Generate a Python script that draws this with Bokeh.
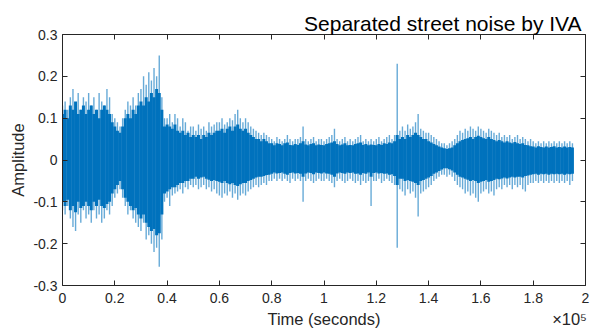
from bokeh.plotting import figure
from bokeh.models import Range1d, FixedTicker, LinearAxis
from bokeh.embed import file_html
from bokeh.resources import INLINE

# ---- data ----
# sample positions (samples), every 1000 samples
samp_t = [i * 1000 for i in range(196)]

# outer spike envelope (light fringe)
tip_hi = [0.13, 0.14, 0.12, 0.15, 0.17, 0.13, 0.16, 0.12, 0.15, 0.14,
          0.16, 0.13, 0.15, 0.12, 0.16, 0.14, 0.13, 0.17, 0.15, 0.11,
          0.10, 0.09, 0.08, 0.10, 0.12, 0.14, 0.13, 0.15, 0.13, 0.16,
          0.17, 0.20, 0.18, 0.21, 0.19, 0.22, 0.20, 0.25, 0.15, 0.10,
          0.10, 0.11, 0.09, 0.11, 0.10, 0.08, 0.10, 0.09, 0.07, 0.08,
          0.08, 0.07, 0.085, 0.075, 0.08, 0.07, 0.09, 0.08, 0.085, 0.09,
          0.09, 0.10, 0.085, 0.09, 0.10, 0.095, 0.11, 0.12, 0.10, 0.09,
          0.10, 0.09, 0.08, 0.075, 0.07, 0.065, 0.06, 0.065, 0.06, 0.055,
          0.05, 0.045, 0.055, 0.05, 0.045, 0.05, 0.06, 0.05, 0.045, 0.05,
          0.05, 0.055, 0.08, 0.05, 0.045, 0.05, 0.055, 0.045, 0.05, 0.05,
          0.045, 0.05, 0.055, 0.06, 0.075, 0.05, 0.045, 0.05, 0.055, 0.045,
          0.05, 0.045, 0.05, 0.055, 0.06, 0.045, 0.05, 0.045, 0.05, 0.045,
          0.05, 0.055, 0.045, 0.05, 0.055, 0.06, 0.05, 0.06, 0.23, 0.07,
          0.08, 0.07, 0.085, 0.075, 0.08, 0.09, 0.11, 0.075, 0.07, 0.065,
          0.065, 0.06, 0.055, 0.05, 0.045, 0.04, 0.04, 0.035, 0.04, 0.045,
          0.05, 0.06, 0.07, 0.065, 0.075, 0.07, 0.08, 0.075, 0.07, 0.08,
          0.075, 0.07, 0.065, 0.075, 0.07, 0.065, 0.06, 0.065, 0.055, 0.06,
          0.055, 0.06, 0.05, 0.055, 0.06, 0.05, 0.055, 0.05, 0.045, 0.05,
          0.045, 0.04, 0.045, 0.04, 0.045, 0.04, 0.045, 0.04, 0.045, 0.04,
          0.045, 0.04, 0.045, 0.04, 0.045, 0.04]
tip_lo = [-0.12, -0.13, -0.11, -0.14, -0.16, -0.17, -0.13, -0.15, -0.12, -0.14,
          -0.13, -0.15, -0.12, -0.14, -0.13, -0.15, -0.14, -0.12, -0.13, -0.11,
          -0.09, -0.08, -0.07, -0.09, -0.11, -0.13, -0.12, -0.14, -0.15, -0.16,
          -0.17, -0.15, -0.19, -0.18, -0.20, -0.22, -0.21, -0.255, -0.19, -0.10,
          -0.09, -0.11, -0.085, -0.08, -0.075, -0.07, -0.08, -0.065, -0.07, -0.06,
          -0.065, -0.06, -0.07, -0.065, -0.06, -0.07, -0.065, -0.075, -0.07, -0.08,
          -0.085, -0.09, -0.08, -0.085, -0.075, -0.09, -0.08, -0.095, -0.085, -0.08,
          -0.085, -0.075, -0.07, -0.065, -0.06, -0.065, -0.06, -0.055, -0.06, -0.05,
          -0.05, -0.045, -0.05, -0.045, -0.05, -0.045, -0.05, -0.055, -0.045, -0.05,
          -0.045, -0.05, -0.10, -0.05, -0.045, -0.05, -0.055, -0.05, -0.045, -0.05,
          -0.05, -0.045, -0.05, -0.055, -0.065, -0.05, -0.045, -0.05, -0.055, -0.05,
          -0.045, -0.05, -0.055, -0.05, -0.06, -0.05, -0.055, -0.05, -0.11, -0.05,
          -0.05, -0.045, -0.055, -0.05, -0.045, -0.05, -0.055, -0.06, -0.21, -0.07,
          -0.075, -0.085, -0.07, -0.08, -0.075, -0.09, -0.135, -0.08, -0.075, -0.07,
          -0.065, -0.06, -0.05, -0.045, -0.04, -0.035, -0.035, -0.04, -0.035, -0.04,
          -0.05, -0.06, -0.065, -0.07, -0.08, -0.075, -0.085, -0.08, -0.09, -0.10,
          -0.08, -0.075, -0.07, -0.08, -0.075, -0.085, -0.07, -0.065, -0.07, -0.06,
          -0.065, -0.06, -0.07, -0.06, -0.065, -0.06, -0.07, -0.075, -0.06, -0.055,
          -0.055, -0.05, -0.055, -0.05, -0.055, -0.05, -0.055, -0.05, -0.055, -0.05,
          -0.055, -0.05, -0.055, -0.05, -0.06, -0.05]

# dense core of the waveform (dark body)
core_hi = [0.11, 0.12, 0.10, 0.13, 0.12, 0.14, 0.11, 0.12, 0.13, 0.11,
           0.12, 0.13, 0.11, 0.12, 0.10, 0.12, 0.13, 0.12, 0.11, 0.09,
           0.08, 0.07, 0.065, 0.08, 0.10, 0.11, 0.10, 0.12, 0.11, 0.13,
           0.14, 0.13, 0.15, 0.14, 0.16, 0.15, 0.17, 0.16, 0.12, 0.08,
           0.085, 0.08, 0.075, 0.085, 0.07, 0.065, 0.07, 0.06, 0.065, 0.055,
           0.06, 0.055, 0.06, 0.05, 0.06, 0.055, 0.065, 0.06, 0.065, 0.07,
           0.07, 0.075, 0.065, 0.075, 0.08, 0.07, 0.08, 0.085, 0.075, 0.07,
           0.075, 0.065, 0.06, 0.055, 0.05, 0.05, 0.045, 0.05, 0.045, 0.04,
           0.04, 0.035, 0.04, 0.038, 0.035, 0.04, 0.042, 0.036, 0.035, 0.038,
           0.036, 0.04, 0.045, 0.037, 0.035, 0.038, 0.04, 0.035, 0.037, 0.036,
           0.035, 0.038, 0.04, 0.042, 0.045, 0.038, 0.035, 0.037, 0.04, 0.035,
           0.036, 0.035, 0.038, 0.04, 0.042, 0.036, 0.038, 0.035, 0.037, 0.036,
           0.035, 0.038, 0.036, 0.04, 0.038, 0.042, 0.04, 0.045, 0.06, 0.05,
           0.055, 0.05, 0.06, 0.055, 0.06, 0.065, 0.06, 0.055, 0.05, 0.05,
           0.045, 0.042, 0.038, 0.035, 0.032, 0.03, 0.028, 0.026, 0.028, 0.03,
           0.035, 0.04, 0.045, 0.048, 0.05, 0.052, 0.055, 0.05, 0.055, 0.058,
           0.055, 0.052, 0.05, 0.055, 0.05, 0.048, 0.045, 0.048, 0.045, 0.042,
           0.045, 0.042, 0.04, 0.043, 0.04, 0.038, 0.04, 0.036, 0.035, 0.033,
           0.032, 0.03, 0.033, 0.031, 0.03, 0.032, 0.03, 0.031, 0.033, 0.03,
           0.031, 0.03, 0.032, 0.03, 0.031, 0.03]
core_lo = [-0.10, -0.11, -0.095, -0.12, -0.11, -0.125, -0.10, -0.115, -0.11, -0.10,
           -0.11, -0.12, -0.10, -0.11, -0.095, -0.11, -0.115, -0.105, -0.10, -0.08,
           -0.07, -0.06, -0.05, -0.07, -0.09, -0.10, -0.11, -0.12, -0.115, -0.13,
           -0.14, -0.13, -0.15, -0.16, -0.17, -0.165, -0.18, -0.175, -0.13, -0.08,
           -0.075, -0.07, -0.065, -0.065, -0.06, -0.055, -0.055, -0.05, -0.05, -0.045,
           -0.045, -0.04, -0.045, -0.042, -0.04, -0.045, -0.047, -0.05, -0.048, -0.05,
           -0.052, -0.055, -0.05, -0.055, -0.058, -0.055, -0.06, -0.062, -0.058, -0.055,
           -0.055, -0.05, -0.048, -0.045, -0.042, -0.04, -0.04, -0.038, -0.036, -0.035,
           -0.033, -0.03, -0.032, -0.031, -0.03, -0.033, -0.035, -0.031, -0.03, -0.032,
           -0.031, -0.033, -0.04, -0.032, -0.03, -0.031, -0.034, -0.03, -0.031, -0.032,
           -0.03, -0.032, -0.033, -0.035, -0.04, -0.032, -0.03, -0.031, -0.033, -0.03,
           -0.031, -0.03, -0.033, -0.032, -0.035, -0.031, -0.033, -0.03, -0.04, -0.031,
           -0.03, -0.032, -0.031, -0.033, -0.032, -0.035, -0.034, -0.038, -0.06, -0.045,
           -0.045, -0.05, -0.048, -0.05, -0.052, -0.055, -0.06, -0.05, -0.048, -0.045,
           -0.042, -0.038, -0.033, -0.03, -0.026, -0.023, -0.02, -0.02, -0.022, -0.025,
           -0.03, -0.035, -0.04, -0.042, -0.045, -0.047, -0.05, -0.048, -0.05, -0.055,
           -0.052, -0.05, -0.048, -0.052, -0.05, -0.048, -0.045, -0.046, -0.044, -0.042,
           -0.044, -0.042, -0.04, -0.042, -0.04, -0.04, -0.042, -0.038, -0.037, -0.035,
           -0.034, -0.033, -0.035, -0.033, -0.034, -0.033, -0.035, -0.033, -0.034, -0.033,
           -0.034, -0.033, -0.035, -0.033, -0.034, -0.033]

x_ticks = [0, 20000, 40000, 60000, 80000, 100000, 120000, 140000, 160000, 180000, 200000]
x_tick_labels = ["0", "0.2", "0.4", "0.6", "0.8", "1", "1.2", "1.4", "1.6", "1.8", "2"]
y_ticks = [-0.3, -0.2, -0.1, 0, 0.1, 0.2, 0.3]
y_tick_labels = ["-0.3", "-0.2", "-0.1", "0", "0.1", "0.2", "0.3"]

title_text = "Separated street noise by IVA"
x_label = "Time (seconds)"
x_exponent = "×10⁵"
y_label = "Amplitude"
# anchor positions (data units) of the bottom texts
x_label_at = 100000
x_exponent_at = 193900

FONT = "Liberation Sans"
AX = "#262626"
BLUE = "#0072BD"

p = figure(width=595, height=333, output_backend="svg", toolbar_location=None,
           title=title_text, x_range=Range1d(0, 200000), y_range=Range1d(-0.3, 0.3),
           min_border_left=62, min_border_right=10, min_border_top=34,
           min_border_bottom=48, y_axis_label=y_label)
p.outline_line_color = None
p.xgrid.visible = False
p.ygrid.visible = False
p.background_fill_color = "white"
p.border_fill_color = "white"

p.title.align = "right"
p.title.text_font = FONT
p.title.text_font_size = "21px"
p.title.text_font_style = "normal"
p.title.text_color = "black"
p.title.standoff = 0
p.title.offset = 4

p.segment(x0=samp_t, y0=tip_lo, x1=samp_t, y1=tip_hi, line_color=BLUE,
          line_alpha=0.6, line_width=1.4)
p.vbar(x=samp_t, width=1150, bottom=core_lo, top=core_hi,
       fill_color=BLUE, line_color=None)


def style(ax, ticks, labels, show_labels=True):
    ax.ticker = FixedTicker(ticks=ticks)
    ax.major_label_overrides = {t: l for t, l in zip(ticks, labels)}
    ax.axis_line_color = AX
    ax.axis_line_width = 1
    ax.major_tick_line_color = AX
    ax.major_tick_in = 5
    ax.major_tick_out = 0
    ax.minor_tick_line_color = None
    ax.major_label_text_font = FONT
    ax.major_label_text_font_size = "14px"
    ax.major_label_text_color = AX if show_labels else None
    ax.axis_label_text_font = FONT
    ax.axis_label_text_font_style = "normal"
    ax.axis_label_text_color = AX
    ax.axis_label_text_font_size = "16.5px"


xa = p.xaxis[0]
style(xa, x_ticks, x_tick_labels)
xa.major_label_standoff = 7
ya = p.yaxis[0]
style(ya, y_ticks, y_tick_labels)
ya.major_label_standoff = 5
ya.axis_label_standoff = 3

# second row below the x axis: axis title and the ×10⁵ exponent
lab = LinearAxis()
lab.ticker = FixedTicker(ticks=[x_label_at, x_exponent_at])
lab.major_label_overrides = {x_label_at: x_label, x_exponent_at: x_exponent}
lab.axis_line_color = None
lab.major_tick_line_color = None
lab.minor_tick_line_color = None
lab.major_tick_in = 0
lab.major_tick_out = 0
lab.major_label_standoff = 4
lab.major_label_text_font = FONT
lab.major_label_text_font_size = "16.5px"
lab.major_label_text_color = AX
p.add_layout(lab, "below")

top = LinearAxis()
style(top, x_ticks, x_tick_labels, show_labels=False)
top.major_label_standoff = 0
top.major_label_text_font_size = "1px"
p.add_layout(top, "above")
right = LinearAxis()
style(right, y_ticks, y_tick_labels, show_labels=False)
right.major_label_standoff = 0
right.major_label_text_font_size = "1px"
p.add_layout(right, "right")

open("out.html", "w").write(file_html(p, INLINE))
